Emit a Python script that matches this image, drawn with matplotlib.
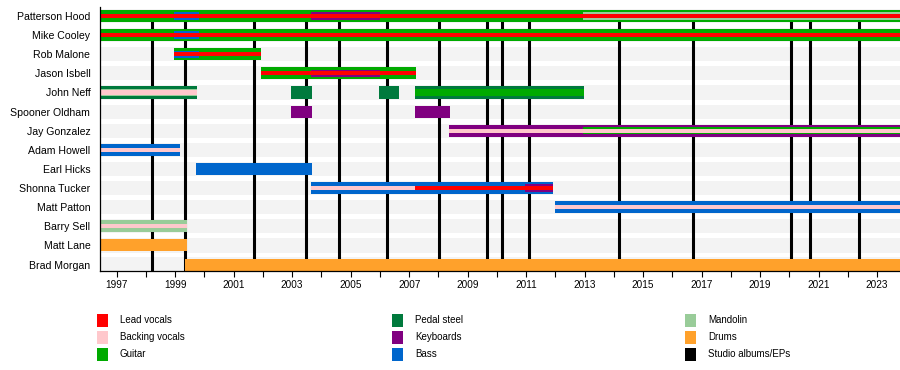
import matplotlib.pyplot as plt
from matplotlib.patches import Rectangle

plt.rcParams['font.family'] = ['Liberation Sans', 'DejaVu Sans']

START, END = 1996.43, 2023.78

members = ["Patterson Hood", "Mike Cooley", "Rob Malone", "Jason Isbell", "John Neff",
           "Spooner Oldham", "Jay Gonzalez", "Adam Howell", "Earl Hicks", "Shonna Tucker",
           "Matt Patton", "Barry Sell", "Matt Lane", "Brad Morgan"]

roles = ["Lead vocals", "Backing vocals", "Guitar", "Pedal steel", "Keyboards", "Bass",
         "Mandolin", "Drums", "Studio albums/EPs"]
role_colors = ["#ff0000", "#ffc8cc", "#00aa00", "#007a3d", "#800080", "#0066cc",
               "#99cc99", "#ffa12b", "#000000"]

# main instrument of each stint (member, role, from, till)
full_bars = [
    ("Patterson Hood", "Guitar", START, END),
    ("Mike Cooley", "Guitar", START, END),
    ("Rob Malone", "Guitar", 1998.96, 2001.92),
    ("Jason Isbell", "Guitar", 2001.92, 2007.23),
    ("John Neff", "Pedal steel", START, 1999.75),
    ("John Neff", "Pedal steel", 2002.96, 2003.68),
    ("John Neff", "Pedal steel", 2005.97, 2006.65),
    ("John Neff", "Pedal steel", 2007.2, 2012.97),
    ("Spooner Oldham", "Keyboards", 2002.96, 2003.68),
    ("Spooner Oldham", "Keyboards", 2007.2, 2008.4),
    ("Jay Gonzalez", "Keyboards", 2008.37, END),
    ("Adam Howell", "Bass", START, 1999.16),
    ("Earl Hicks", "Bass", 1999.71, 2003.68),
    ("Shonna Tucker", "Bass", 2003.65, 2011.92),
    ("Matt Patton", "Bass", 2012.0, END),
    ("Barry Sell", "Mandolin", START, 1999.4),
    ("Matt Lane", "Drums", START, 1999.4),
    ("Brad Morgan", "Drums", 1999.35, END),
]

# second instruments
mid_bars = [
    ("Patterson Hood", "Bass", 1998.96, 1999.8),
    ("Patterson Hood", "Keyboards", 2003.65, 2006.0),
    ("Patterson Hood", "Mandolin", 2012.93, END),
    ("Mike Cooley", "Bass", 1998.96, 1999.8),
    ("Rob Malone", "Bass", 1998.96, 1999.8),
    ("Jason Isbell", "Keyboards", 2003.65, 2006.0),
    ("John Neff", "Mandolin", START, 1999.75),
    ("John Neff", "Guitar", 2007.2, 2012.97),
    ("Jay Gonzalez", "Guitar", 2012.93, END),
    ("Shonna Tucker", "Keyboards", 2010.96, 2011.92),
]

# vocals
thin_bars = [
    ("Patterson Hood", "Lead vocals", START, END),
    ("Mike Cooley", "Lead vocals", START, END),
    ("Rob Malone", "Lead vocals", 1998.96, 2001.92),
    ("Jason Isbell", "Lead vocals", 2001.92, 2007.23),
    ("John Neff", "Backing vocals", START, 1999.75),
    ("Jay Gonzalez", "Backing vocals", 2008.37, END),
    ("Adam Howell", "Backing vocals", START, 1999.16),
    ("Shonna Tucker", "Backing vocals", 2003.65, 2007.2),
    ("Shonna Tucker", "Lead vocals", 2007.2, 2011.92),
    ("Matt Patton", "Backing vocals", 2012.0, END),
    ("Barry Sell", "Backing vocals", START, 1999.4),
]

albums = [1998.21, 1999.34, 2001.70, 2003.46, 2004.61, 2006.25, 2008.03, 2009.65,
          2010.18, 2011.11, 2014.16, 2016.71, 2020.04, 2020.71, 2022.39]

color_of = dict(zip(roles, role_colors))
row_of = {m: i for i, m in enumerate(members)}

fig = plt.figure(figsize=(9, 3.7), dpi=100)
ax = fig.add_axes([100 / 900, 1 - 270.5 / 370, 800 / 900, 263.1 / 370])

# grey row backgrounds
for i in range(len(members)):
    ax.barh(i, END - START, left=START, height=0.74, color="#f3f3f3", linewidth=0, zorder=0)

ax.vlines(albums, -0.33, len(members) - 0.69, color="black", linewidth=2.2, zorder=1)

for bars, h, z in [(full_bars, 0.63, 2), (mid_bars, 0.38, 3), (thin_bars, 0.22, 4)]:
    for m, r, a, b in bars:
        ax.barh(row_of[m], b - a, left=a, height=h, color=color_of[r], linewidth=0, zorder=z)

ax.set_xlim(START, END)
ax.set_ylim(len(members) - 0.69, -0.45)

ax.set_yticks(range(len(members)))
ax.set_yticklabels(members, fontsize=7.6)
ax.tick_params(axis="y", length=0, pad=7)

ax.set_xticks(range(1997, 2024, 2))
ax.set_xticks(range(1998, 2024, 2), minor=True)
ax.tick_params(axis="x", which="both", length=4, width=0.8, labelsize=7.2, pad=2.5)

for s in ["top", "right"]:
    ax.spines[s].set_visible(False)
for s in ["left", "bottom"]:
    ax.spines[s].set_linewidth(0.9)
    ax.spines[s].set_zorder(5)

# legend, three columns
col_x = [97, 392, 685]
row_y = [320, 337, 354]
for k, (r, c) in enumerate(zip(roles, role_colors)):
    x = col_x[k // 3]
    y = row_y[k % 3]
    fig.add_artist(Rectangle((x / 900, 1 - (y + 6.5) / 370), 11 / 900, 13 / 370,
                             transform=fig.transFigure, facecolor=c, edgecolor="none"))
    fig.text((x + 23) / 900, 1 - y / 370, r, fontsize=7, va="center", ha="left")

fig.savefig("out.png", dpi=100)
